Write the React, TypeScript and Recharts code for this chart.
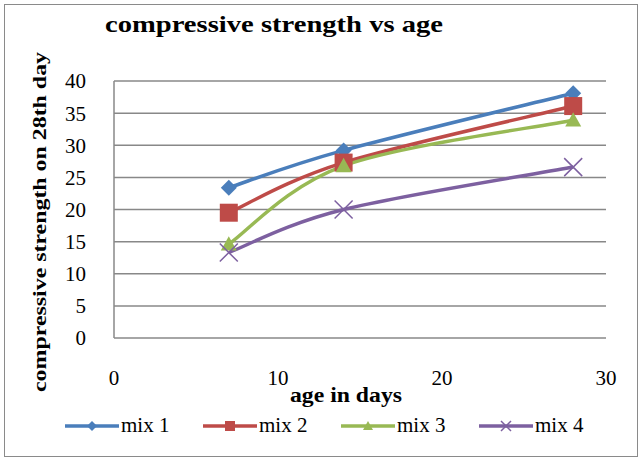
import React from 'react'
import { LineChart, Line, XAxis, YAxis, CartesianGrid, Legend } from 'recharts'

const ages = [7, 14, 28]
const mix1 = [23.4, 29.2, 38.1]
const mix2 = [19.5, 27.3, 36.1]
const mix3 = [14.6, 26.8, 33.9]
const mix4 = [13.3, 20.0, 26.6]
const xTicks = [0, 10, 20, 30]
const yTicks = [0, 5, 10, 15, 20, 25, 30, 35, 40]

const data = ages.map((a, i) => ({ age: a, mix1: mix1[i], mix2: mix2[i], mix3: mix3[i], mix4: mix4[i] }))

const FONT = "'Times New Roman', 'Liberation Serif', 'DejaVu Serif', serif"

const series = [
  { key: 'mix1', name: 'mix 1', color: '#4A7EBB', shape: 'diamond' },
  { key: 'mix2', name: 'mix 2', color: '#BE4B48', shape: 'square' },
  { key: 'mix3', name: 'mix 3', color: '#98B954', shape: 'triangle' },
  { key: 'mix4', name: 'mix 4', color: '#7D60A0', shape: 'x' },
]

// Excel-like smoothing (Catmull-Rom as cubic bezier)
// eslint-disable-next-line @typescript-eslint/no-explicit-any
const excelCurve = (context: any) => {
  let pts: number[][] = []
  return {
    areaStart() {},
    areaEnd() {},
    lineStart() { pts = [] },
    point(x: number, y: number) { pts.push([x, y]) },
    lineEnd() {
      if (!pts.length) return
      context.moveTo(pts[0][0], pts[0][1])
      for (let i = 0; i < pts.length - 1; i++) {
        const p0 = pts[i - 1] || pts[i]
        const p1 = pts[i]
        const p2 = pts[i + 1]
        const p3 = pts[i + 2] || p2
        context.bezierCurveTo(
          p1[0] + (p2[0] - p0[0]) / 6, p1[1] + (p2[1] - p0[1]) / 6,
          p2[0] - (p3[0] - p1[0]) / 6, p2[1] - (p3[1] - p1[1]) / 6,
          p2[0], p2[1],
        )
      }
    },
  }
}

const marker = (shape: string, color: string, cx: number, cy: number, s: number, key?: string) => {
  if (shape === 'diamond')
    return <path key={key} d={`M${cx},${cy - s}L${cx + s},${cy}L${cx},${cy + s}L${cx - s},${cy}Z`} fill={color} />
  if (shape === 'square')
    return <rect key={key} x={cx - s} y={cy - s} width={s * 2} height={s * 2} fill={color} />
  if (shape === 'triangle')
    return <path key={key} d={`M${cx},${cy - s}L${cx + s},${cy + s * 0.8}L${cx - s},${cy + s * 0.8}Z`} fill={color} />
  return (
    <path key={key} d={`M${cx - s},${cy - s}L${cx + s},${cy + s}M${cx + s},${cy - s}L${cx - s},${cy + s}`}
      stroke={color} strokeWidth={1.5} fill="none" />
  )
}

const makeDot = (shape: string, color: string, s: number) =>
  // eslint-disable-next-line @typescript-eslint/no-explicit-any
  (props: any) => marker(shape, color, props.cx, props.cy, s, `${shape}-${props.index}`)

const LegendBox = () => (
  <div style={{ display: 'flex', fontFamily: FONT, fontSize: 21, color: '#000' }}>
    {series.map((s) => (
      <div key={s.key} style={{ display: 'flex', alignItems: 'center', width: 138 }}>
        <svg width={54} height={20}>
          <line x1={0} y1={10} x2={54} y2={10} stroke={s.color} strokeWidth={3.5} />
          {marker(s.shape, s.color, 27, 10, 5)}
        </svg>
        <span style={{ marginLeft: 2 }}>{s.name}</span>
      </div>
    ))}
  </div>
)

const YLabel = () => (
  <text x={0} y={0} transform="translate(46,222) rotate(-90)" textAnchor="middle"
    textLength={340} lengthAdjust="spacingAndGlyphs"
    style={{ fontFamily: FONT, fontWeight: 'bold', fontSize: 19, fill: '#000' }}>
    compressive strength on 28th day
  </text>
)

const XLabel = () => (
  <text x={346} y={402} textAnchor="middle" textLength={112} lengthAdjust="spacingAndGlyphs"
    style={{ fontFamily: FONT, fontWeight: 'bold', fontSize: 20, fill: '#000' }}>
    age in days
  </text>
)

export default function App() {
  return (
    <div style={{ position: 'absolute', left: 0, top: 0, width: 641, height: 461, background: '#fff' }}>
      <div style={{ position: 'absolute', left: 4, top: 4, width: 632, height: 451, border: '1.5px solid #8a8a8a' }} />
      <svg width={641} height={60} style={{ position: 'absolute', left: 0, top: 0 }}>
        <text x={105} y={32} textLength={338} lengthAdjust="spacingAndGlyphs"
          style={{ fontFamily: FONT, fontWeight: 'bold', fontSize: 23 }}>
          compressive  strength vs age
        </text>
      </svg>
      <LineChart width={641} height={461} data={data} margin={{ top: 81, right: 35, left: 0, bottom: 0 }}
        style={{ position: 'absolute', left: 0, top: 0, fontFamily: FONT }}>
        <CartesianGrid vertical={false} stroke="#888" strokeWidth={1.5} />
        <XAxis dataKey="age" type="number" domain={[0, 30]} ticks={xTicks} height={123}
          axisLine={false} tickLine={false} tickMargin={26}
          tick={{ fill: '#000', fontSize: 21, fontFamily: FONT }}
          label={<XLabel />} />
        <YAxis type="number" domain={[0, 40]} ticks={yTicks} width={114}
          axisLine={{ stroke: '#888', strokeWidth: 1.5 }} tickLine={false} tickMargin={22}
          tick={{ fill: '#000', fontSize: 21, fontFamily: FONT }}
          label={<YLabel />} />
        <Legend verticalAlign="middle" align="center" content={<LegendBox />}
          wrapperStyle={{ top: 413, left: 65, width: 580 }} />
        {series.map((s) => (
          <Line key={s.key} dataKey={s.key} name={s.name} type={excelCurve} stroke={s.color} strokeWidth={3.5}
            dot={makeDot(s.shape, s.color, s.shape === 'square' ? 9 : s.shape === 'x' ? 9 : 8)}
            activeDot={false} isAnimationActive={false} />
        ))}
      </LineChart>
    </div>
  )
}
